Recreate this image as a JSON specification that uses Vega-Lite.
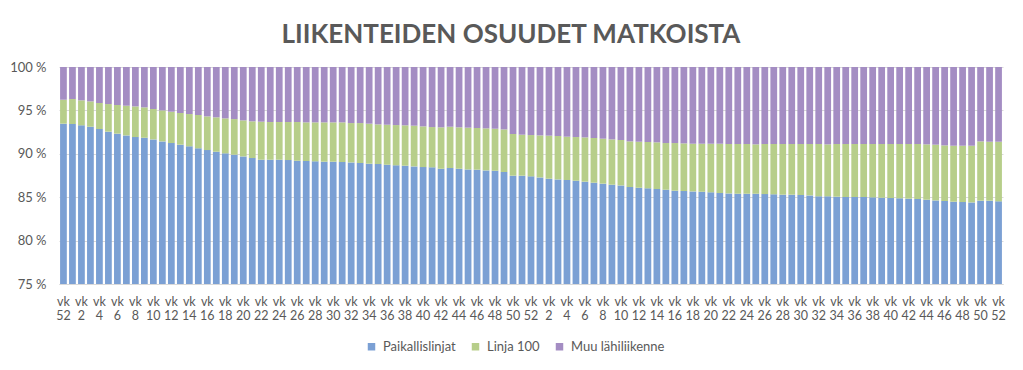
{
  "$schema": "https://vega.github.io/schema/vega-lite/v6.json",
  "autosize": {"type": "none"},
  "width": 944,
  "height": 217,
  "padding": {"left": 59, "top": 67, "right": 20, "bottom": 86},
  "background": "#ffffff",
  "title": {
    "text": "LIIKENTEIDEN OSUUDET MATKOISTA",
    "font": "Lato",
    "fontSize": 26,
    "fontWeight": "bold",
    "color": "#595959",
    "anchor": "middle",
    "dx": -20,
    "offset": 13
  },
  "datasets": {
    "series": [
      {"key": "P", "name": "Paikallislinjat", "o": 1},
      {"key": "L", "name": "Linja 100", "o": 2},
      {"key": "M", "name": "Muu lähiliikenne", "o": 3}
    ],
    "weeks": [
      {"w": "0-52", "P": 93.47, "L": 2.76, "M": 3.77},
      {"w": "1-1", "P": 93.43, "L": 2.88, "M": 3.69},
      {"w": "1-2", "P": 93.28, "L": 2.88, "M": 3.84},
      {"w": "1-3", "P": 93.12, "L": 2.92, "M": 3.96},
      {"w": "1-4", "P": 92.85, "L": 3.00, "M": 4.15},
      {"w": "1-5", "P": 92.55, "L": 3.18, "M": 4.27},
      {"w": "1-6", "P": 92.32, "L": 3.30, "M": 4.38},
      {"w": "1-7", "P": 92.12, "L": 3.42, "M": 4.46},
      {"w": "1-8", "P": 91.93, "L": 3.53, "M": 4.54},
      {"w": "1-9", "P": 91.85, "L": 3.50, "M": 4.65},
      {"w": "1-10", "P": 91.66, "L": 3.50, "M": 4.84},
      {"w": "1-11", "P": 91.43, "L": 3.57, "M": 5.00},
      {"w": "1-12", "P": 91.24, "L": 3.61, "M": 5.15},
      {"w": "1-13", "P": 91.05, "L": 3.65, "M": 5.30},
      {"w": "1-14", "P": 90.86, "L": 3.72, "M": 5.42},
      {"w": "1-15", "P": 90.63, "L": 3.84, "M": 5.53},
      {"w": "1-16", "P": 90.43, "L": 3.88, "M": 5.69},
      {"w": "1-17", "P": 90.24, "L": 3.96, "M": 5.80},
      {"w": "1-18", "P": 90.05, "L": 4.03, "M": 5.92},
      {"w": "1-19", "P": 89.90, "L": 4.10, "M": 6.00},
      {"w": "1-20", "P": 89.70, "L": 4.15, "M": 6.15},
      {"w": "1-21", "P": 89.51, "L": 4.23, "M": 6.26},
      {"w": "1-22", "P": 89.32, "L": 4.38, "M": 6.30},
      {"w": "1-23", "P": 89.32, "L": 4.34, "M": 6.34},
      {"w": "1-24", "P": 89.32, "L": 4.34, "M": 6.34},
      {"w": "1-25", "P": 89.28, "L": 4.38, "M": 6.34},
      {"w": "1-26", "P": 89.20, "L": 4.46, "M": 6.34},
      {"w": "1-27", "P": 89.17, "L": 4.45, "M": 6.38},
      {"w": "1-28", "P": 89.13, "L": 4.49, "M": 6.38},
      {"w": "1-29", "P": 89.09, "L": 4.53, "M": 6.38},
      {"w": "1-30", "P": 89.09, "L": 4.53, "M": 6.38},
      {"w": "1-31", "P": 89.05, "L": 4.57, "M": 6.38},
      {"w": "1-32", "P": 89.01, "L": 4.53, "M": 6.46},
      {"w": "1-33", "P": 88.94, "L": 4.60, "M": 6.46},
      {"w": "1-34", "P": 88.86, "L": 4.61, "M": 6.53},
      {"w": "1-35", "P": 88.82, "L": 4.57, "M": 6.61},
      {"w": "1-36", "P": 88.74, "L": 4.61, "M": 6.65},
      {"w": "1-37", "P": 88.67, "L": 4.64, "M": 6.69},
      {"w": "1-38", "P": 88.63, "L": 4.65, "M": 6.72},
      {"w": "1-39", "P": 88.55, "L": 4.69, "M": 6.76},
      {"w": "1-40", "P": 88.47, "L": 4.69, "M": 6.84},
      {"w": "1-41", "P": 88.44, "L": 4.64, "M": 6.92},
      {"w": "1-42", "P": 88.28, "L": 4.77, "M": 6.95},
      {"w": "1-43", "P": 88.36, "L": 4.76, "M": 6.88},
      {"w": "1-44", "P": 88.28, "L": 4.77, "M": 6.95},
      {"w": "1-45", "P": 88.20, "L": 4.81, "M": 6.99},
      {"w": "1-46", "P": 88.17, "L": 4.80, "M": 7.03},
      {"w": "1-47", "P": 88.09, "L": 4.84, "M": 7.07},
      {"w": "1-48", "P": 88.05, "L": 4.84, "M": 7.11},
      {"w": "1-49", "P": 87.90, "L": 4.91, "M": 7.19},
      {"w": "1-50", "P": 87.48, "L": 4.80, "M": 7.72},
      {"w": "1-51", "P": 87.48, "L": 4.72, "M": 7.80},
      {"w": "1-52", "P": 87.40, "L": 4.76, "M": 7.84},
      {"w": "2-1", "P": 87.28, "L": 4.84, "M": 7.88},
      {"w": "2-2", "P": 87.13, "L": 4.96, "M": 7.91},
      {"w": "2-3", "P": 87.05, "L": 5.00, "M": 7.95},
      {"w": "2-4", "P": 86.98, "L": 4.99, "M": 8.03},
      {"w": "2-5", "P": 86.90, "L": 5.03, "M": 8.07},
      {"w": "2-6", "P": 86.79, "L": 5.10, "M": 8.11},
      {"w": "2-7", "P": 86.67, "L": 5.15, "M": 8.18},
      {"w": "2-8", "P": 86.56, "L": 5.18, "M": 8.26},
      {"w": "2-9", "P": 86.44, "L": 5.22, "M": 8.34},
      {"w": "2-10", "P": 86.36, "L": 5.23, "M": 8.41},
      {"w": "2-11", "P": 86.17, "L": 5.26, "M": 8.57},
      {"w": "2-12", "P": 86.09, "L": 5.30, "M": 8.61},
      {"w": "2-13", "P": 86.02, "L": 5.34, "M": 8.64},
      {"w": "2-14", "P": 85.94, "L": 5.38, "M": 8.68},
      {"w": "2-15", "P": 85.86, "L": 5.38, "M": 8.76},
      {"w": "2-16", "P": 85.75, "L": 5.49, "M": 8.76},
      {"w": "2-17", "P": 85.71, "L": 5.49, "M": 8.80},
      {"w": "2-18", "P": 85.67, "L": 5.49, "M": 8.84},
      {"w": "2-19", "P": 85.63, "L": 5.53, "M": 8.84},
      {"w": "2-20", "P": 85.56, "L": 5.60, "M": 8.84},
      {"w": "2-21", "P": 85.48, "L": 5.68, "M": 8.84},
      {"w": "2-22", "P": 85.44, "L": 5.69, "M": 8.87},
      {"w": "2-23", "P": 85.40, "L": 5.73, "M": 8.87},
      {"w": "2-24", "P": 85.40, "L": 5.73, "M": 8.87},
      {"w": "2-25", "P": 85.40, "L": 5.69, "M": 8.91},
      {"w": "2-26", "P": 85.36, "L": 5.77, "M": 8.87},
      {"w": "2-27", "P": 85.33, "L": 5.80, "M": 8.87},
      {"w": "2-28", "P": 85.29, "L": 5.84, "M": 8.87},
      {"w": "2-29", "P": 85.29, "L": 5.84, "M": 8.87},
      {"w": "2-30", "P": 85.25, "L": 5.88, "M": 8.87},
      {"w": "2-31", "P": 85.21, "L": 5.92, "M": 8.87},
      {"w": "2-32", "P": 85.10, "L": 6.03, "M": 8.87},
      {"w": "2-33", "P": 85.10, "L": 5.99, "M": 8.91},
      {"w": "2-34", "P": 85.06, "L": 6.07, "M": 8.87},
      {"w": "2-35", "P": 85.02, "L": 6.11, "M": 8.87},
      {"w": "2-36", "P": 85.02, "L": 6.11, "M": 8.87},
      {"w": "2-37", "P": 85.02, "L": 6.11, "M": 8.87},
      {"w": "2-38", "P": 84.98, "L": 6.15, "M": 8.87},
      {"w": "2-39", "P": 84.94, "L": 6.19, "M": 8.87},
      {"w": "2-40", "P": 84.90, "L": 6.23, "M": 8.87},
      {"w": "2-41", "P": 84.87, "L": 6.26, "M": 8.87},
      {"w": "2-42", "P": 84.83, "L": 6.30, "M": 8.87},
      {"w": "2-43", "P": 84.79, "L": 6.34, "M": 8.87},
      {"w": "2-44", "P": 84.71, "L": 6.38, "M": 8.91},
      {"w": "2-45", "P": 84.63, "L": 6.42, "M": 8.95},
      {"w": "2-46", "P": 84.56, "L": 6.41, "M": 9.03},
      {"w": "2-47", "P": 84.48, "L": 6.45, "M": 9.07},
      {"w": "2-48", "P": 84.44, "L": 6.49, "M": 9.07},
      {"w": "2-49", "P": 84.40, "L": 6.53, "M": 9.07},
      {"w": "2-50", "P": 84.60, "L": 6.83, "M": 8.57},
      {"w": "2-51", "P": 84.60, "L": 6.79, "M": 8.61},
      {"w": "2-52", "P": 84.52, "L": 6.87, "M": 8.61}
    ]
  },
  "data": {"name": "weeks"},
  "transform": [
    {"fold": ["P", "L", "M"], "as": ["key", "share"]},
    {"lookup": "key", "from": {"data": {"name": "series"}, "key": "key", "fields": ["name", "o"]}}
  ],
  "mark": {"type": "bar", "clip": true},
  "encoding": {
    "x": {
      "field": "w",
      "type": "nominal",
      "sort": null,
      "scale": {"paddingInner": 0.25, "paddingOuter": 0.12},
      "axis": {
        "title": null,
        "ticks": false,
        "domain": true,
        "domainColor": "#D9D9D9",
        "labelAngle": 0,
        "labelOverlap": false,
        "labelBound": false,
        "labelPadding": 11,
        "labelFont": "Lato",
        "labelFontSize": 12.5,
        "labelColor": "#595959",
        "labelLineHeight": 14.5,
        "labelExpr": "toNumber(split(datum.value, '-')[1]) % 2 == 0 ? ['vk', split(datum.value, '-')[1]] : ''"
      }
    },
    "y": {
      "field": "share",
      "type": "quantitative",
      "stack": "zero",
      "scale": {"domain": [75, 100], "nice": false, "zero": false},
      "axis": {
        "title": null,
        "values": [75, 80, 85, 90, 95, 100],
        "domain": false,
        "ticks": false,
        "grid": true,
        "gridColor": "#D9D9D9",
        "labelPadding": 13,
        "labelFont": "Lato",
        "labelFontSize": 13,
        "labelColor": "#595959",
        "labelExpr": "datum.value + ' %'"
      }
    },
    "color": {
      "field": "name",
      "type": "nominal",
      "scale": {
        "domain": ["Paikallislinjat", "Linja 100", "Muu lähiliikenne"],
        "range": ["#7BA0D4", "#B7CE8A", "#A48DC3"]
      },
      "legend": {
        "title": null,
        "orient": "none",
        "direction": "horizontal",
        "legendX": 306,
        "legendY": 273,
        "symbolType": "square",
        "symbolSize": 56,
        "symbolStrokeWidth": 0,
        "labelFont": "Lato",
        "labelFontSize": 13,
        "labelColor": "#595959",
        "labelOffset": 5,
        "columnPadding": 13
      }
    },
    "order": {"field": "o", "type": "quantitative", "sort": "ascending"}
  },
  "config": {"view": {"stroke": null}}
}
